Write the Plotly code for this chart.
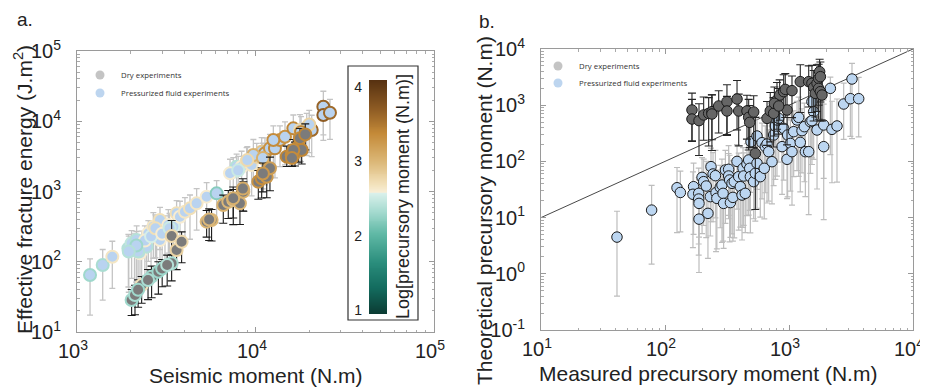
import numpy as np
import plotly.graph_objects as go

# window is 928x389, the page body adds an 8px margin
OFF = 8
W, H = 928 - OFF, 389 - OFF

# ---------------- Panel a data ----------------
# Pressurized fluid experiments: seismic moment, fracture energy, log precursory moment, error (log up / log down)
a_fl_x = [1183, 1393, 1577, 1940, 2023, 2158, 2254, 2302, 2455, 2510, 2677, 2795, 2917, 2917, 3111, 3249,
          3467, 3614, 3773, 4025, 4295, 4680, 5324, 6056, 7508, 7837, 8360, 8918, 9513, 10160, 10830, 11300,
          12050, 12850, 13710, 14630, 16290, 17750, 19360, 20650, 23990, 23990, 26130, 12590, 9730, 7200,
          2100, 2200, 2400, 2600, 2750, 3000, 3300, 2150, 1950, 8000, 9000, 11000, 20000, 18000]
a_fl_y = [64.7, 90, 118, 155, 183, 204, 132, 164, 164, 254, 316, 268, 393, 204, 283, 333,
          316, 489, 438, 516, 576, 678, 844, 941, 1914, 2254, 2254, 2654, 2383, 3133, 3690, 3493,
          4113, 4113, 5408, 6030, 7925, 7500, 8180, 7500, 16110, 12270, 13240, 5408, 3311, 1815,
          150, 140, 200, 230, 300, 250, 300, 170, 140, 2000, 2800, 3000, 9000, 7000]
a_fl_c = [2.30, 2.35, 2.65, 2.40, 2.45, 2.40, 2.60, 2.45, 2.40, 2.60, 2.65, 2.45, 2.70, 2.60, 2.70, 2.60,
          2.55, 2.70, 2.60, 2.65, 2.70, 2.65, 2.60, 2.20, 2.45, 2.40, 2.60, 2.70, 2.65, 2.80, 2.90, 3.35,
          3.30, 3.40, 3.35, 3.30, 3.40, 2.75, 2.80, 3.60, 3.65, 3.70, 3.60, 3.35, 3.05, 2.60,
          2.35, 2.40, 2.60, 2.55, 2.70, 2.60, 2.50, 2.30, 2.40, 2.50, 2.75, 3.05, 2.80, 3.40]
a_fl_up = [0.23, 0.22, 0.22, 0.20, 0.18, 0.20, 0.25, 0.22, 0.20, 0.18, 0.20, 0.22, 0.18, 0.24, 0.20, 0.22,
           0.20, 0.18, 0.22, 0.20, 0.19, 0.21, 0.20, 0.18, 0.20, 0.18, 0.22, 0.20, 0.21, 0.19, 0.20, 0.22,
           0.20, 0.18, 0.20, 0.21, 0.19, 0.22, 0.20, 0.21, 0.22, 0.20, 0.19, 0.20, 0.22, 0.20,
           0.22, 0.20, 0.21, 0.22, 0.19, 0.20, 0.21, 0.20, 0.22, 0.20, 0.19, 0.21, 0.20, 0.22]
a_fl_dn = [0.57, 0.50, 0.45, 0.55, 0.50, 0.60, 0.45, 0.52, 0.48, 0.40, 0.45, 0.50, 0.42, 0.46, 0.44, 0.40,
           0.48, 0.38, 0.42, 0.40, 0.44, 0.38, 0.40, 0.42, 0.40, 0.45, 0.42, 0.38, 0.44, 0.40, 0.42, 0.45,
           0.40, 0.42, 0.38, 0.40, 0.42, 0.44, 0.40, 0.38, 0.40, 0.36, 0.38, 0.40, 0.42, 0.44,
           0.55, 0.60, 0.50, 0.48, 0.42, 0.46, 0.44, 0.52, 0.58, 0.40, 0.42, 0.44, 0.40, 0.42]

# Dry experiments
a_dr_x = [2023, 2113, 2302, 2618, 2857, 3390, 3390, 3614, 3855, 5324, 5675, 6600, 7040, 7508, 8183, 8550,
          10370, 10830, 11560, 12050, 14960, 15950, 16640, 17380, 17750, 18150, 16290,
          2200, 2500, 3000, 3200, 5500, 7500, 8500, 11000, 16000, 19000]
a_dr_y = [28.5, 33.6, 46.7, 61.4, 72.3, 95, 233, 147, 193, 372, 393, 643, 716, 757, 678, 995,
          1380, 1540, 1625, 2138, 3133, 3311, 3493, 4345, 5715, 3899, 3899,
          40, 55, 80, 90, 400, 800, 1100, 1800, 3000, 6500]
a_dr_c = [2.30, 2.35, 2.70, 2.30, 2.30, 2.35, 2.75, 2.80, 2.75, 3.00, 3.00, 3.05, 3.00, 2.95, 3.00, 3.05,
          3.30, 3.35, 3.25, 3.20, 3.40, 3.35, 3.30, 3.45, 3.35, 3.40, 3.35,
          2.30, 2.35, 2.30, 2.40, 3.00, 3.05, 3.10, 3.25, 3.35, 3.40]
a_dr_up = [0.15, 0.14, 0.12, 0.15, 0.14, 0.12, 0.22, 0.15, 0.14, 0.16, 0.15, 0.14, 0.16, 0.15, 0.17, 0.14,
           0.16, 0.15, 0.14, 0.16, 0.15, 0.14, 0.16, 0.15, 0.14, 0.16, 0.15,
           0.14, 0.15, 0.13, 0.14, 0.15, 0.16, 0.14, 0.15, 0.16, 0.15]
a_dr_dn = [0.22, 0.28, 0.26, 0.30, 0.32, 0.25, 0.40, 0.28, 0.30, 0.22, 0.30, 0.26, 0.24, 0.35, 0.30, 0.28,
           0.25, 0.28, 0.30, 0.32, 0.14, 0.16, 0.18, 0.22, 0.20, 0.20, 0.18,
           0.25, 0.28, 0.26, 0.30, 0.30, 0.28, 0.32, 0.26, 0.12, 0.22]

# ---------------- Panel b data ----------------
b_fl_x = [41, 78, 125, 133, 170, 168, 187, 187, 188, 188, 199, 205, 215, 222, 232, 235, 244, 255, 258, 262,
          279, 288, 294, 297, 307, 326, 326, 332, 337, 347, 353, 362, 381, 393, 405, 418, 426, 431, 444, 458,
          473, 482, 488, 494, 519, 535, 552, 552, 587, 606, 632, 644, 665, 686, 729, 752, 776, 800, 826, 879,
          906, 964, 975, 1026, 1057, 1091, 1161, 1197, 1233, 1273, 1330, 1355, 1442, 1486, 1531, 1581, 1531,
          1683, 1905, 1905, 2155, 2221, 2438, 2760, 3221, 3126, 3648]
b_fl_y = [4.5, 13.6, 34, 28, 35.5, 26, 27, 21.4, 17.9, 9.4, 52, 43.6, 36.5, 11.9, 23.6, 80.6, 59.7, 55.7, 27.8, 22,
          34.6, 38, 27, 17.9, 70.3, 72.3, 55, 46.7, 18.5, 40.7, 22.9, 43.6, 100, 53.5, 35.5, 25.2, 75.3, 55, 27, 90,
          106, 75.3, 53.5, 224, 43.6, 61.4, 283, 92.5, 53.5, 215, 75.3, 183, 204, 149, 98.8, 295, 427, 546, 584, 183,
          387, 109, 295, 209, 149, 338, 546, 608, 218, 352, 415, 149, 149, 509, 1156, 767, 531,
          362, 183, 445, 1995, 372, 427, 1050, 2924, 1306, 1306]
b_fl_up = [0.46, 0.44, 0.36, 0.38, 0.42, 0.40, 0.45, 0.38, 0.42, 0.50, 0.35, 0.40, 0.44, 0.48, 0.36, 0.33, 0.38, 0.45, 0.40, 0.42,
           0.39, 0.46, 0.37, 0.41, 0.35, 0.42, 0.40, 0.44, 0.36, 0.40, 0.43, 0.38, 0.30, 0.42, 0.45, 0.40, 0.37, 0.41, 0.44, 0.36,
           0.34, 0.40, 0.42, 0.30, 0.45, 0.38, 0.33, 0.40, 0.43, 0.35, 0.40, 0.37, 0.42, 0.39, 0.45, 0.34, 0.30, 0.33, 0.36, 0.41,
           0.38, 0.44, 0.35, 0.42, 0.40, 0.37, 0.33, 0.36, 0.44, 0.39, 0.42, 0.45, 0.40, 0.35, 0.30, 0.34, 0.38,
           0.41, 0.83, 0.37, 0.20, 0.50, 0.48, 0.37, 0.28, 0.39, 0.38]
b_fl_dn = [1.05, 0.96, 0.80, 0.70, 0.85, 0.95, 1.10, 0.80, 0.60, 0.95, 1.00, 0.78, 0.92, 0.80, 0.70, 0.98, 0.85, 0.75, 1.05, 0.90,
           0.72, 1.02, 0.85, 0.80, 0.95, 0.88, 0.70, 1.10, 0.62, 0.90, 0.78, 1.00, 0.85, 0.95, 0.72, 0.80, 1.05, 0.88, 0.70, 0.92,
           0.98, 0.75, 1.00, 0.90, 0.66, 0.85, 0.95, 0.80, 0.72, 1.00, 0.90, 0.82, 1.05, 0.88, 0.75, 0.90, 0.95, 1.00, 0.78, 0.85,
           0.92, 0.70, 1.10, 0.85, 0.95, 0.80, 0.90, 1.05, 0.88, 0.75, 0.98, 0.80, 1.12, 0.92, 1.00, 0.85, 0.78,
           1.05, 1.30, 0.95, 1.18, 0.95, 1.00, 0.63, 1.06, 0.67, 0.68]

b_dr_x = [165, 165, 188, 205, 225, 239, 239, 271, 316, 316, 381, 393, 458, 473, 482, 519, 535, 665, 706, 752,
          800, 841, 906, 933, 964, 1057, 1233, 1442, 1531, 1581, 1629, 1683, 1734, 1734, 1766, 1791, 1791, 1845,
          762, 826]
b_dr_y = [822, 568, 531, 670, 716, 767, 697, 968, 1156, 789, 1288, 789, 789, 608, 495, 757, 139, 583, 789, 716,
          1239, 1517, 1742, 1914, 822, 1816, 2624, 2624, 2449, 2080, 1626, 2449, 3006, 1995, 3954, 3221, 1742, 1517,
          1079, 968]
b_dr_up = [0.30, 0.35, 0.30, 0.32, 0.28, 0.30, 0.34, 0.27, 0.30, 0.26, 0.33, 0.30, 0.28, 0.32, 0.30, 0.29, 0.64, 0.30, 0.33, 0.28,
           0.31, 0.27, 0.30, 0.28, 0.34, 0.26, 0.30, 0.28, 0.32, 0.30, 0.27, 0.33, 0.25, 0.31, 0.22, 0.26, 0.30, 0.32,
           0.29, 0.31]
b_dr_dn = [0.55, 0.40, 0.62, 0.45, 0.58, 0.50, 0.65, 0.48, 0.60, 0.42, 0.55, 0.62, 0.50, 0.58, 0.45, 0.63, 1.00, 0.48, 0.55, 0.60,
           0.52, 0.45, 0.58, 0.50, 0.62, 0.48, 0.55, 0.45, 0.52, 0.60, 0.42, 0.50, 0.48, 0.55, 0.40, 0.45, 0.52, 0.46,
           0.58, 0.50]

one_to_one = [10, 10000]

# axis decades (tick labels)
a_x_exp = [3, 4, 5]
a_y_exp = [1, 2, 3, 4, 5]
b_x_exp = [1, 2, 3, 4]
b_y_exp = [-1, 0, 1, 2, 3, 4]

# Colour scale (log precursory moment)
c_min, c_max = 0.946, 4.094
cbar_ticks = [1, 2, 3, 4]
scale = [[0.0, "#0b3a32"], [0.11, "#136b5e"], [0.22, "#2a8d7c"], [0.34, "#5fb8a5"],
         [0.44, "#a6dbd0"], [0.515, "#d9f0eb"], [0.52, "#f8eed6"], [0.55, "#f3e3bd"],
         [0.65, "#dcb878"], [0.77, "#c48a38"], [0.88, "#8c5a23"], [1.0, "#553010"]]


def errs(y, up, dn):
    y = np.array(y, float)
    return y * (10 ** np.array(up) - 1), y * (1 - 10 ** (-np.array(dn)))


def px(x):
    return (x - OFF) / W


def py(y):
    return 1 - (y - OFF) / H


fig = go.Figure()

# ---- panel a ----
p, m = errs(a_fl_y, a_fl_up, a_fl_dn)
fig.add_trace(go.Scatter(
    x=a_fl_x, y=a_fl_y, mode="markers", xaxis="x", yaxis="y", showlegend=False,
    error_y=dict(type="data", symmetric=False, array=p, arrayminus=m, color="#c4c4c4", thickness=1.3, width=3),
    marker=dict(size=12, color="#b9d3f0",
                line=dict(width=2, color=a_fl_c, colorscale=scale, cmin=c_min, cmax=c_max))))
p, m = errs(a_dr_y, a_dr_up, a_dr_dn)
fig.add_trace(go.Scatter(
    x=a_dr_x, y=a_dr_y, mode="markers", xaxis="x", yaxis="y", showlegend=False,
    error_y=dict(type="data", symmetric=False, array=p, arrayminus=m, color="#1a1a1a", thickness=1.1, width=4),
    marker=dict(size=12, color="#7b7b7b",
                line=dict(width=2, color=a_dr_c, colorscale=scale, cmin=c_min, cmax=c_max))))

# ---- panel b ----
fig.add_trace(go.Scatter(x=one_to_one, y=one_to_one, mode="lines", xaxis="x2", yaxis="y2",
                         line=dict(color="#333333", width=0.9), showlegend=False, hoverinfo="skip"))
p, m = errs(b_fl_y, b_fl_up, b_fl_dn)
fig.add_trace(go.Scatter(
    x=b_fl_x, y=b_fl_y, mode="markers", xaxis="x2", yaxis="y2", showlegend=False,
    error_y=dict(type="data", symmetric=False, array=p, arrayminus=m, color="#bdbdbd", thickness=1.2, width=3),
    marker=dict(size=10.5, color="#bcd6f1", line=dict(width=1, color="#1a1a1a"))))
p, m = errs(b_dr_y, b_dr_up, b_dr_dn)
fig.add_trace(go.Scatter(
    x=b_dr_x, y=b_dr_y, mode="markers", xaxis="x2", yaxis="y2", showlegend=False,
    error_y=dict(type="data", symmetric=False, array=p, arrayminus=m, color="#262626", thickness=1.1, width=4),
    marker=dict(size=10.5, color="#666666", line=dict(width=1, color="#1a1a1a"))))

# ---- colour bar drawn as heatmap ----
levels = np.linspace(c_min, c_max, 240)
fig.add_trace(go.Heatmap(x=[0], y=levels, z=[[v] for v in levels], colorscale=scale,
                         zmin=c_min, zmax=c_max, showscale=False, xaxis="x3", yaxis="y3",
                         hoverinfo="skip"))

FONT = "Liberation Sans, Arial, sans-serif"
tickfont = dict(family=FONT, size=20, color="#222")


def pow_label(e):
    return "10<sup>%d</sup>" % e


def log_axis(exps, domain, anchor, standoff, show_labels=True):
    vals = [10.0 ** e for e in exps]
    minor = [k * 10.0 ** e for e in exps[:-1] for k in range(2, 10)]
    return dict(type="log", domain=domain, anchor=anchor, range=[exps[0], exps[-1]],
                tickvals=vals, ticktext=[pow_label(e) for e in exps], showticklabels=show_labels,
                automargin=False, ticklabeloverflow="allow",
                showgrid=False, zeroline=False, ticks="inside", ticklen=5,
                tickcolor="#999", linecolor="#9a9a9a", linewidth=1, mirror="allticks",
                tickfont=tickfont, ticklabelstandoff=standoff,
                minor=dict(ticks="inside", ticklen=2.5, tickcolor="#aaa", tickvals=minor, showgrid=False))


fig.update_layout(
    width=W, height=H, margin=dict(l=0, r=0, t=0, b=0),
    paper_bgcolor="white", plot_bgcolor="white",
    xaxis=log_axis(a_x_exp, [px(77), px(434)], "y", 0, show_labels=False),
    yaxis=log_axis(a_y_exp, [py(332), py(51)], "x", 11),
    xaxis2=log_axis(b_x_exp, [px(541), px(913)], "y2", 0, show_labels=False),
    yaxis2=log_axis(b_y_exp, [py(330), py(49)], "x2", 11),
    xaxis3=dict(domain=[px(369), px(387)], anchor="y3", visible=False, fixedrange=True, automargin=False),
    yaxis3=dict(domain=[py(314), py(80)], anchor="x3", range=[c_min, c_max], tickvals=cbar_ticks,
                ticks="", showline=False, showgrid=False, zeroline=False, ticklabelstandoff=6,
                automargin=False, tickfont=dict(family=FONT, size=14, color="#222")),
)

shapes = [dict(type="rect", xref="paper", yref="paper", x0=px(348), x1=px(418), y0=py(320), y1=py(66),
               line=dict(color="#333", width=1.2), fillcolor="rgba(0,0,0,0)")]
legend_font = dict(family="Open Sans, sans-serif", size=7.8, color="#333")


def note(text, x, y, size, angle=0, xanchor="center"):
    return dict(text=text, x=px(x), y=py(y), xref="paper", yref="paper", textangle=angle,
                xanchor=xanchor, yanchor="middle", showarrow=False, font=dict(family=FONT, size=size, color="#222"))


annotations = [
    note("Log[precursory moment (N.m)]", 403, 197, 18, -90),
    note("a.", 15, 20, 19, xanchor="left"),
    note("b.", 477, 21, 19, xanchor="left"),
    note("Seismic moment (N.m)", 256, 375, 21),
    note("Effective fracture energy (J.m<sup>2</sup>)", 23, 190, 21, -90),
    note("Measured precursory moment (N.m)", 708, 373, 21),
    note("Theoretical precursory moment (N.m)", 484, 211, 21, -90),
]
# x-axis tick labels, placed on the axes' own log coordinates
for ax, exps, ylab in [("x", a_x_exp, 349), ("x2", b_x_exp, 347)]:
    for e in exps:
        annotations.append(dict(text=pow_label(e), x=e, xref=ax, y=py(ylab), yref="paper",
                                xanchor="center", yanchor="middle", xshift=-4, showarrow=False,
                                font=tickfont))

for (cx, cy, col, label) in [(100, 75, "#c4c4c4", "Dry experiments"),
                             (100, 93, "#bdd5ef", "Pressurized fluid experiments"),
                             (558, 66, "#c4c4c4", "Dry experiments"),
                             (558, 83, "#bdd5ef", "Pressurized fluid experiments")]:
    r = 4.5
    shapes.append(dict(type="circle", xref="paper", yref="paper", x0=px(cx - r), x1=px(cx + r),
                       y0=py(cy + r), y1=py(cy - r), fillcolor=col, line=dict(width=0)))
    annotations.append(dict(text=label, x=px(cx + 19), y=py(cy), xref="paper", yref="paper",
                            xanchor="left", yanchor="middle", showarrow=False, font=legend_font))

fig.update_layout(shapes=shapes, annotations=annotations)
fig.write_html("out.html")
